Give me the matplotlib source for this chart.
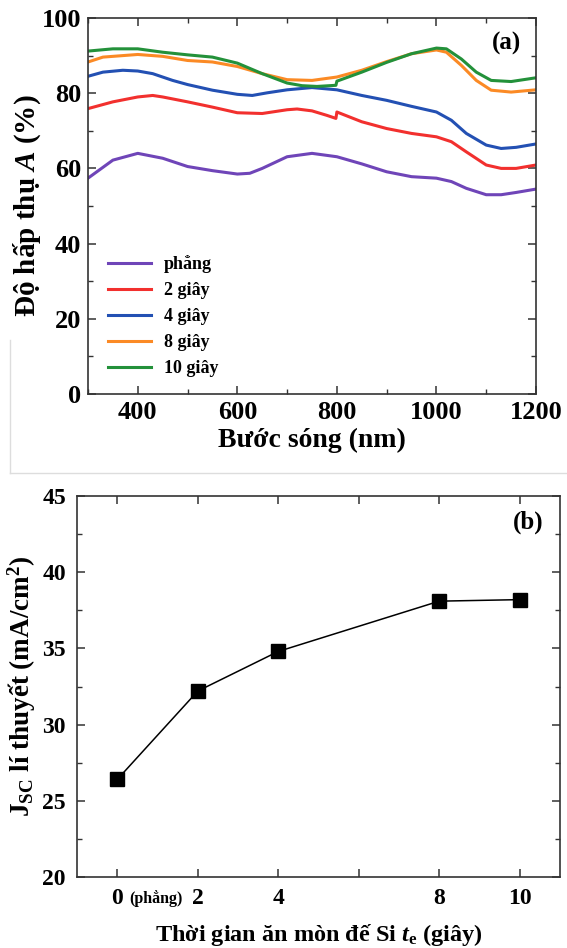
import matplotlib.pyplot as plt
from matplotlib.lines import Line2D
from matplotlib.ticker import MultipleLocator

plt.rcParams['font.family'] = ['Liberation Serif', 'DejaVu Serif']
plt.rcParams['font.weight'] = 'bold'
plt.rcParams['mathtext.fontset'] = 'custom'
plt.rcParams['mathtext.rm'] = 'Liberation Serif:bold'
plt.rcParams['mathtext.bf'] = 'Liberation Serif:bold'
plt.rcParams['mathtext.it'] = 'Liberation Serif:italic:bold'

# (a) absorption spectra
wl_flat = [300, 350, 400, 450, 500, 550, 600, 625, 650, 700, 750, 800, 850, 900,
           950, 1000, 1030, 1060, 1100, 1130, 1160, 1200]
a_flat = [57.4, 62.2, 64.0, 62.7, 60.5, 59.4, 58.5, 58.7, 60.0, 63.1, 64.0, 63.1,
          61.2, 59.1, 57.8, 57.4, 56.5, 54.7, 53.0, 53.0, 53.6, 54.5]

wl_2s = [300, 350, 400, 430, 450, 500, 550, 600, 650, 700, 720, 750, 780, 798, 800,
         850, 900, 950, 1000, 1030, 1060, 1100, 1130, 1160, 1200]
a_2s = [75.9, 77.7, 79.0, 79.4, 79.0, 77.7, 76.3, 74.8, 74.6, 75.6, 75.8, 75.3, 74.1,
        73.3, 75.0, 72.4, 70.6, 69.3, 68.4, 67.1, 64.4, 60.9, 60.0, 60.0, 60.9]

wl_4s = [300, 330, 370, 400, 430, 470, 500, 550, 600, 630, 660, 700, 750, 800, 850,
         900, 950, 1000, 1030, 1060, 1100, 1130, 1160, 1200]
a_4s = [84.5, 85.6, 86.1, 85.9, 85.2, 83.4, 82.3, 80.8, 79.7, 79.4, 80.1, 80.9, 81.5,
        80.9, 79.4, 78.1, 76.5, 75.0, 72.8, 69.3, 66.2, 65.3, 65.6, 66.5]

wl_8s = [300, 330, 370, 400, 450, 500, 550, 600, 650, 700, 750, 800, 850, 900, 950,
         1000, 1020, 1050, 1080, 1110, 1150, 1200]
a_8s = [88.3, 89.6, 90.0, 90.3, 89.8, 88.7, 88.3, 87.1, 85.2, 83.6, 83.4, 84.3, 86.1,
        88.4, 90.5, 91.5, 90.9, 87.4, 83.4, 80.8, 80.3, 80.9]

wl_10s = [300, 350, 400, 450, 500, 550, 600, 650, 700, 730, 760, 798, 800, 850, 900,
          950, 1000, 1020, 1050, 1080, 1110, 1150, 1200]
a_10s = [91.2, 91.8, 91.8, 90.9, 90.2, 89.6, 88.0, 85.2, 82.7, 82.0, 81.8, 82.1, 83.2,
         85.6, 88.2, 90.5, 92.0, 91.8, 89.1, 85.6, 83.4, 83.1, 84.1]

labels_a = ['phẳng', '2 giây', '4 giây', '8 giây', '10 giây']
colors_a = ['#6f45b8', '#f2302e', '#2350b3', '#fb8a25', '#23913a']

# (b) Jsc vs etching time
t_etch = [0, 2, 4, 8, 10]
jsc = [26.4, 32.2, 34.8, 38.1, 38.2]

fig = plt.figure(figsize=(5.67, 9.48), dpi=100)

# light frame around panel (a)
fig.add_artist(Line2D([10/567, 10/567], [1 - 473/948, 1 - 340/948], color='#dddddd', lw=1))
fig.add_artist(Line2D([10/567, 1], [1 - 473/948, 1 - 473/948], color='#dddddd', lw=1))

def style_axes(ax):
    for s in ax.spines.values():
        s.set_linewidth(1.2)
        s.set_color('#333333')
    ax.tick_params(which='both', direction='in', top=True, right=True, color='#333333')
    ax.tick_params(which='major', length=6, width=1.1)
    ax.tick_params(which='minor', length=3.5, width=1.0)

ax1 = fig.add_axes([88/567, 1 - 394/948, 448/567, 376/948])
series = [(wl_flat, a_flat), (wl_2s, a_2s), (wl_4s, a_4s), (wl_8s, a_8s), (wl_10s, a_10s)]
for (x, y), lab, c in zip(series, labels_a, colors_a):
    ax1.plot(x, y, color=c, lw=2.2, label=lab)
ax1.set_xlim(300, 1200)
ax1.set_ylim(0, 100)
ax1.xaxis.set_major_locator(MultipleLocator(200))
ax1.xaxis.set_minor_locator(MultipleLocator(100))
ax1.yaxis.set_major_locator(MultipleLocator(20))
ax1.yaxis.set_minor_locator(MultipleLocator(10))
style_axes(ax1)
ax1.tick_params(which='major', labelsize=19, pad=5)
ax1.set_xlabel('Bước sóng (nm)', fontsize=20, fontweight='bold', labelpad=3)
ax1.set_ylabel('Độ hấp thụ $A$ (%)', fontsize=21, fontweight='bold', labelpad=-1)
ax1.text(0.935, 0.933, '(a)', transform=ax1.transAxes, fontsize=18,
         fontweight='bold', ha='center', va='center')
ax1.legend(loc='lower left', bbox_to_anchor=(0.045, 0.045), frameon=False,
           borderpad=0, borderaxespad=0, handlelength=2.4, handletextpad=0.7,
           labelspacing=0.5, prop={'size': 13, 'weight': 'bold'})

ax2 = fig.add_axes([77/567, 1 - 877/948, 483/567, 381/948])
ax2.plot(t_etch, jsc, color='black', lw=1.1, marker='s', markersize=10,
         markerfacecolor='black', markeredgecolor='black')
ax2.set_xlim(-1, 11)
ax2.set_ylim(20, 45)
ax2.set_xticks([0, 2, 4, 6, 8, 10])
ax2.set_xticklabels(['0', '2', '4', '', '8', '10'])
ax2.yaxis.set_major_locator(MultipleLocator(5))
ax2.yaxis.set_minor_locator(MultipleLocator(2.5))
style_axes(ax2)
ax2.tick_params(which='major', labelsize=17, pad=8)
ax2.annotate('(phẳng)', xy=(0, 0), xycoords=ax2.get_xaxis_transform(),
             xytext=(8.5, -15.5), textcoords='offset points', fontsize=11.5,
             fontweight='bold', ha='left', va='center')
ax2.set_xlabel('Thời gian ăn mòn đế Si $t_{\\mathrm{e}}$ (giây)', fontsize=17.5,
               fontweight='bold', labelpad=9)
ax2.set_ylabel('J$_{\\mathrm{SC}}$ lí thuyết (mA/cm$^{\\mathrm{2}}$)', fontsize=19.5,
               fontweight='bold', labelpad=3)
ax2.text(0.935, 0.93, '(b)', transform=ax2.transAxes, fontsize=18,
         fontweight='bold', ha='center', va='center')

fig.savefig('out.png', dpi=100)
